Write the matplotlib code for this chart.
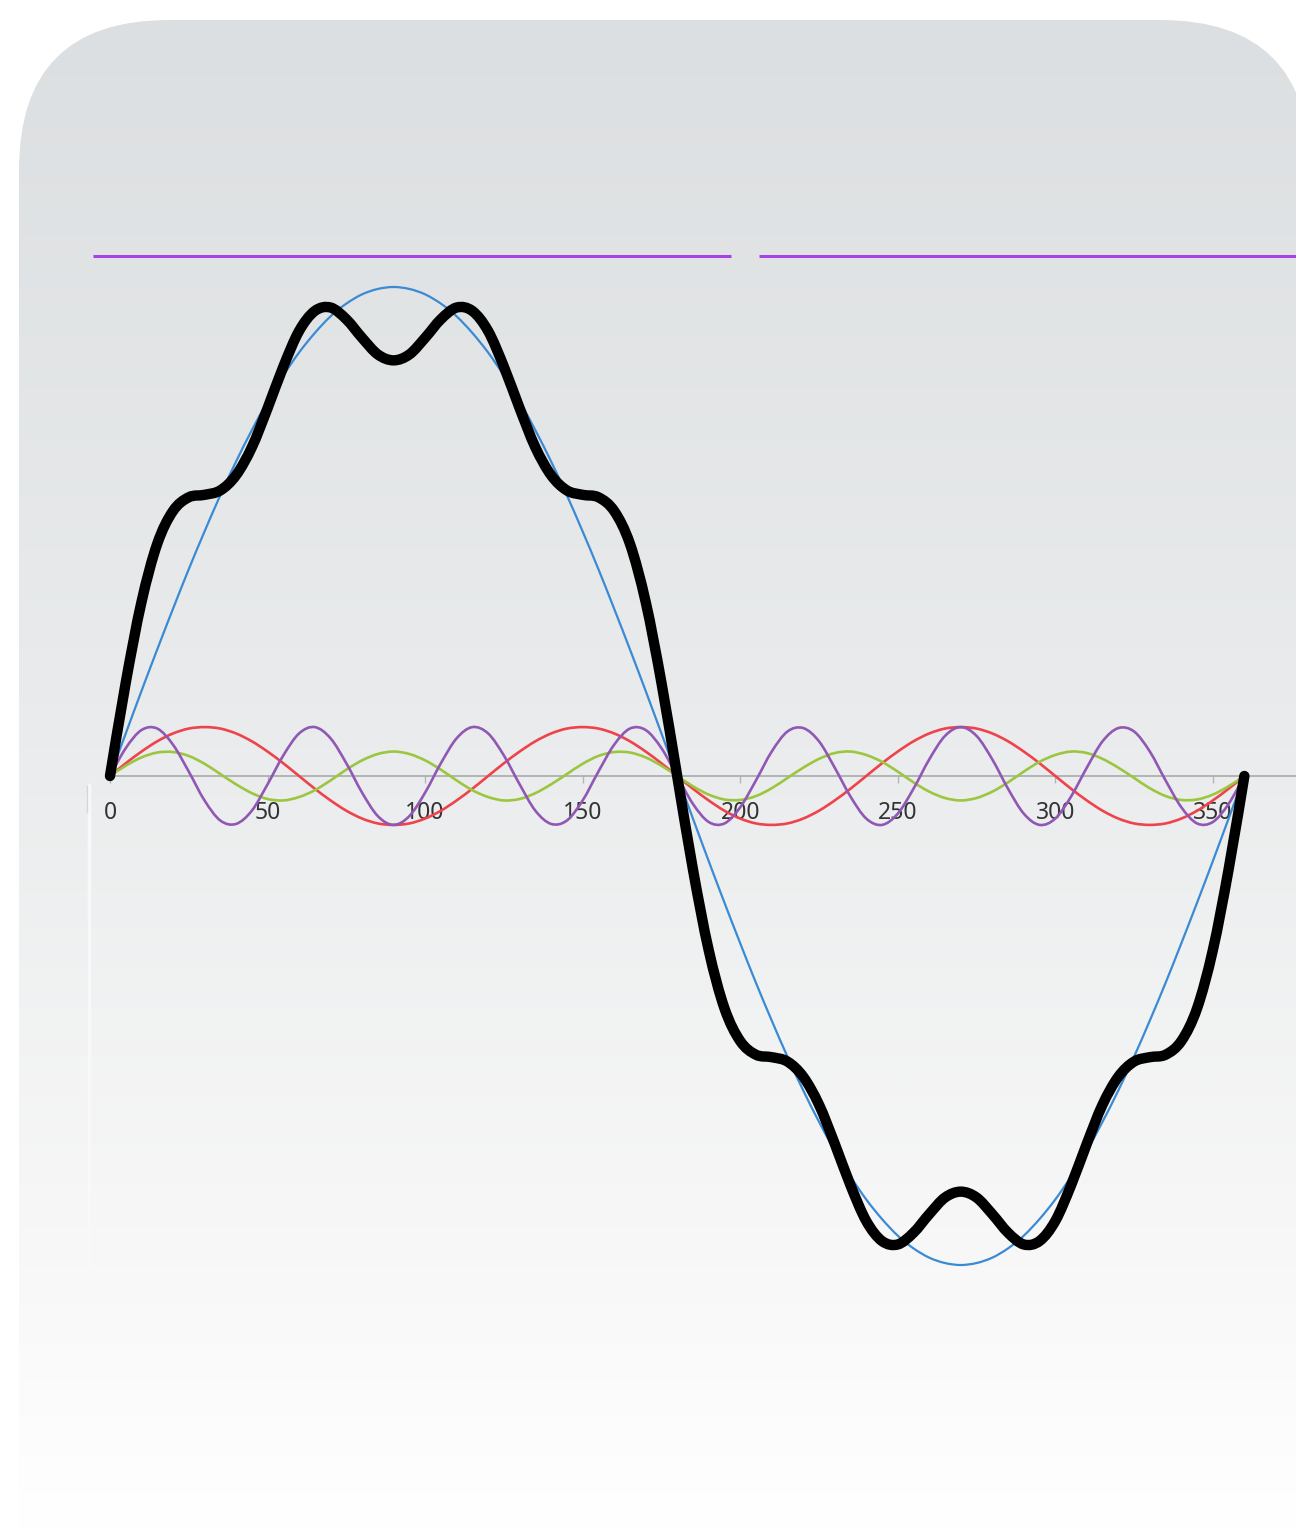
import numpy as np
import matplotlib
matplotlib.use("Agg")
import matplotlib.pyplot as plt
from matplotlib.path import Path
from matplotlib.patches import PathPatch, FancyBboxPatch
from matplotlib.colors import LinearSegmentedColormap

# angle in degrees, one sample every 5 degrees
degrees = list(range(0, 365, 5))
tick_values = [0, 50, 100, 150, 200, 250, 300, 350]

# values (fundamental peak = 100)
fundamental = [
    0.0, 8.7, 17.4, 25.9, 34.2, 42.3, 50.0, 57.4, 64.3, 70.7, 76.6, 81.9, 86.6,
    90.6, 94.0, 96.6, 98.5, 99.6, 100.0, 99.6, 98.5, 96.6, 94.0, 90.6, 86.6,
    81.9, 76.6, 70.7, 64.3, 57.4, 50.0, 42.3, 34.2, 25.9, 17.4, 8.7, 0.0,
    -8.7, -17.4, -25.9, -34.2, -42.3, -50.0, -57.4, -64.3, -70.7, -76.6, -81.9,
    -86.6, -90.6, -94.0, -96.6, -98.5, -99.6, -100.0, -99.6, -98.5, -96.6,
    -94.0, -90.6, -86.6, -81.9, -76.6, -70.7, -64.3, -57.4, -50.0, -42.3,
    -34.2, -25.9, -17.4, -8.7, 0.0,
]
third = [
    0.0, 2.6, 5.0, 7.1, 8.7, 9.7, 10.0, 9.7, 8.7, 7.1, 5.0, 2.6,
    0.0, -2.6, -5.0, -7.1, -8.7, -9.7, -10.0, -9.7, -8.7, -7.1, -5.0, -2.6,
    0.0, 2.6, 5.0, 7.1, 8.7, 9.7, 10.0, 9.7, 8.7, 7.1, 5.0, 2.6,
    0.0, -2.6, -5.0, -7.1, -8.7, -9.7, -10.0, -9.7, -8.7, -7.1, -5.0, -2.6,
    0.0, 2.6, 5.0, 7.1, 8.7, 9.7, 10.0, 9.7, 8.7, 7.1, 5.0, 2.6,
    0.0, -2.6, -5.0, -7.1, -8.7, -9.7, -10.0, -9.7, -8.7, -7.1, -5.0, -2.6,
    0.0,
]
fifth = [
    0.0, 2.1, 3.8, 4.8, 4.9, 4.1, 2.5, 0.4, -1.7, -3.5, -4.7, -5.0, -4.3,
    -2.9, -0.9, 1.3, 3.2, 4.5, 5.0, 4.5, 3.2, 1.3, -0.9, -2.9, -4.3, -5.0,
    -4.7, -3.5, -1.7, 0.4, 2.5, 4.1, 4.9, 4.8, 3.8, 2.1, 0.0,
    -2.1, -3.8, -4.8, -4.9, -4.1, -2.5, -0.4, 1.7, 3.5, 4.7, 5.0, 4.3, 2.9,
    0.9, -1.3, -3.2, -4.5, -5.0, -4.5, -3.2, -1.3, 0.9, 2.9, 4.3, 5.0, 4.7,
    3.5, 1.7, -0.4, -2.5, -4.1, -4.9, -4.8, -3.8, -2.1, 0.0,
]
seventh = [
    0.0, 5.7, 9.4, 9.7, 6.4, 0.9, -5.0, -9.1, -9.8, -7.1, -1.7, 4.2, 8.7,
    10.0, 7.7, 2.6, -3.4, -8.2, -10.0, -8.2, -3.4, 2.6, 7.7, 10.0, 8.7, 4.2,
    -1.7, -7.1, -9.8, -9.1, -5.0, 0.9, 6.4, 9.7, 9.4, 5.7, 0.0,
    -5.7, -9.4, -9.7, -6.4, -0.9, 5.0, 9.1, 9.8, 7.1, 1.7, -4.2, -8.7, -10.0,
    -7.7, -2.6, 3.4, 8.2, 10.0, 8.2, 3.4, -2.6, -7.7, -10.0, -8.7, -4.2, 1.7,
    7.1, 9.8, 9.1, 5.0, -0.9, -6.4, -9.7, -9.4, -5.7, 0.0,
]
composite = [
    0.0, 19.1, 35.6, 47.5, 54.2, 57.0, 57.5, 58.4, 61.5, 67.2, 75.2, 83.7,
    91.0, 95.1, 95.8, 93.4, 89.6, 86.2, 85.0, 86.2, 89.6, 93.4, 95.8, 95.1,
    91.0, 83.7, 75.2, 67.2, 61.5, 58.4, 57.5, 57.0, 54.2, 47.5, 35.6, 19.1, 0.0,
    -19.1, -35.6, -47.5, -54.2, -57.0, -57.5, -58.4, -61.5, -67.2, -75.2,
    -83.7, -91.0, -95.1, -95.8, -93.4, -89.6, -86.2, -85.0, -86.2, -89.6,
    -93.4, -95.8, -95.1, -91.0, -83.7, -75.2, -67.2, -61.5, -58.4, -57.5,
    -57.0, -54.2, -47.5, -35.6, -19.1, 0.0,
]


def smooth_path(xs, ys):
    """Smoothed line through the points (like a spreadsheet 'smoothed line')."""
    pts = np.column_stack([xs, ys]).astype(float)
    ext = np.vstack([pts[0], pts, pts[-1]])
    verts = [pts[0]]
    codes = [Path.MOVETO]
    for i in range(len(pts) - 1):
        p0, p1, p2, p3 = ext[i], ext[i + 1], ext[i + 2], ext[i + 3]
        verts += [p1 + (p2 - p0) / 6.0, p2 - (p3 - p1) / 6.0, p2]
        codes += [Path.CURVE4] * 3
    return Path(verts, codes)


W, H = 1296, 1537
fig = plt.figure(figsize=(W / 100, H / 100), dpi=100)
fig.patch.set_facecolor("white")

# ---------------------------
# background card (pixel coordinates)
# ---------------------------
bg = fig.add_axes([0, 0, 1, 1])
bg.set_xlim(0, W)
bg.set_ylim(H, 0)
bg.axis("off")

card = FancyBboxPatch((19, 20), 1291, 1700,
                      boxstyle="round,pad=0,rounding_size=150",
                      facecolor="none", edgecolor="none")
bg.add_patch(card)
grad_cmap = LinearSegmentedColormap.from_list(
    "card", [(0.0, "#dcdfe1"), (0.45, "#e9ebec"), (0.8, "#f7f7f7"), (1.0, "#ffffff")])
grad = np.linspace(0, 1, 256).reshape(-1, 1)
img = bg.imshow(grad, cmap=grad_cmap, extent=(19, 1310, H, 20), aspect="auto",
                interpolation="bilinear")
img.set_clip_path(card)

# purple rule under the (empty) title area
bg.plot([93, 731], [256, 256], color="#a543e4", lw=2.2, solid_capstyle="butt")
bg.plot([759, 1296], [256, 256], color="#a543e4", lw=2.2, solid_capstyle="butt")

# faint stub of the vertical axis
bg.plot([89, 89], [785, 1305], color="#f8f8fb", lw=2.5)
bg.plot([87, 87], [786, 812], color="#d4d6d8", lw=1.0)

# ---------------------------
# chart
# ---------------------------
px_per_deg = 3.151
px_per_unit = 4.89
zero_y = 776
top_px, bot_px = 100, 1450
left_px = 110

ax = fig.add_axes([left_px / W, 1 - bot_px / H, (W - left_px) / W, (bot_px - top_px) / H])
ax.patch.set_alpha(0)
ax.set_xlim(0, (W - left_px) / px_per_deg)
ax.set_ylim(-(bot_px - zero_y) / px_per_unit, (zero_y - top_px) / px_per_unit)

for side in ["top", "right", "left"]:
    ax.spines[side].set_visible(False)
ax.spines["bottom"].set_position(("data", 0))
ax.spines["bottom"].set_color("#a9a9a9")
ax.spines["bottom"].set_linewidth(1.2)
ax.set_yticks([])
ax.set_xticks(tick_values)
ax.set_xticklabels([str(t) for t in tick_values], fontsize=16.5, color="#333333",
                   family="Noto Sans")
ax.tick_params(axis="x", direction="out", length=5, width=1, color="#b5b5b5", pad=13)

series = [
    (fundamental, "#3a8ad4", 1.6),
    (third, "#ef434b", 1.9),
    (fifth, "#9cc640", 1.9),
    (seventh, "#9058b4", 1.9),
    (composite, "#000000", 7.5),
]
for z, (vals, color, lw) in enumerate(series):
    patch = PathPatch(smooth_path(degrees, vals), fill=False, edgecolor=color, lw=lw,
                      capstyle="round", joinstyle="round", clip_on=False, zorder=3 + z)
    ax.add_patch(patch)

fig.savefig("out.png", dpi=100, facecolor="white")
